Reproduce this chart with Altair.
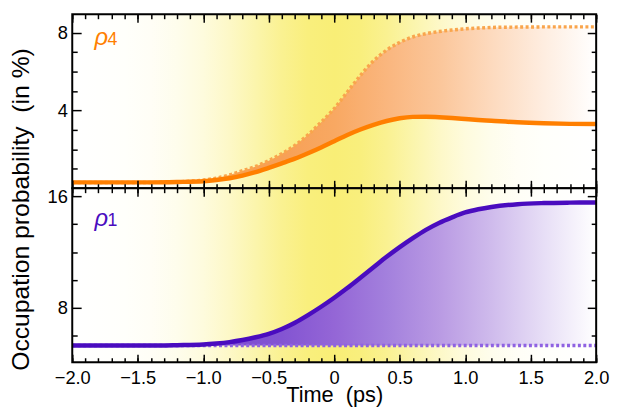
import altair as alt
import pandas as pd

# ---------------- data ----------------
time = [-2.0, -1.8, -1.6, -1.4, -1.2, -1.0, -0.9, -0.8, -0.7, -0.6, -0.5, -0.4,
        -0.3, -0.2, -0.1, 0.0, 0.1, 0.2, 0.3, 0.4, 0.5, 0.6, 0.7, 0.8, 0.9, 1.0,
        1.1, 1.2, 1.4, 1.6, 1.8, 2.0]
rho4_solid = [0.30, 0.30, 0.30, 0.30, 0.32, 0.36, 0.42, 0.51, 0.65, 0.83, 1.05, 1.28,
              1.52, 1.80, 2.10, 2.42, 2.74, 3.02, 3.26, 3.46, 3.60, 3.67, 3.68, 3.65,
              3.61, 3.56, 3.51, 3.47, 3.39, 3.34, 3.31, 3.30]
rho4_dotted = [0.30, 0.30, 0.30, 0.30, 0.33, 0.42, 0.52, 0.68, 0.90, 1.12, 1.42, 1.78,
               2.20, 2.75, 3.40, 4.10, 4.95, 5.80, 6.55, 7.10, 7.50, 7.78, 7.95, 8.06,
               8.14, 8.20, 8.24, 8.27, 8.29, 8.30, 8.30, 8.30]
rho1_solid = [5.25, 5.25, 5.25, 5.25, 5.28, 5.33, 5.40, 5.50, 5.65, 5.85, 6.10, 6.45,
              6.90, 7.45, 8.05, 8.70, 9.40, 10.15, 10.90, 11.65, 12.35, 13.00, 13.60,
              14.10, 14.50, 14.85, 15.08, 15.25, 15.45, 15.53, 15.56, 15.57]
rho1_dotted = [5.25] * len(time)

x_major = [-2.0, -1.5, -1.0, -0.5, 0.0, 0.5, 1.0, 1.5, 2.0]
x_minor = [round(-2 + 0.1 * i, 1) for i in range(41)]
top_y_major = [4, 8]
top_y_minor = [1, 2, 3, 5, 6, 7]
bot_y_major = [8, 16]
bot_y_minor = [6, 10, 12, 14]

top_domain = [0, 8.95]
bot_domain = [4.05, 16.6]
x_domain = [-2, 2]

FONT = "Liberation Sans"
W, H = 530, 176


def stops(pairs):
    return [alt.GradientStop(color=c, offset=o) for o, c in pairs]


yellow = alt.Gradient(
    gradient="linear", x1=0, x2=1, y1=0, y2=0,
    stops=stops([
        (0.0, "#FFFFFF"), (0.1, "#FFFFFB"), (0.15, "#FFFEF6"), (0.2, "#FEFDEC"),
        (0.25, "#FEFBDD"), (0.3, "#FDF8C7"), (0.35, "#FBF5AC"), (0.4, "#FAF191"),
        (0.45, "#F9EF7D"), (0.5, "#F9EE76"), (0.55, "#F9EF7D"), (0.6, "#FAF191"),
        (0.65, "#FBF5AC"), (0.7, "#FDF8C7"), (0.75, "#FEFBDD"), (0.8, "#FEFDEC"),
        (0.85, "#FFFEF6"), (0.9, "#FFFFFB"), (1.0, "#FFFFFF"),
    ]),
)

orange_fill = alt.Gradient(
    gradient="linear", x1=0, x2=1, y1=0, y2=0,
    stops=stops([
        (0.0, "#F5964A"), (0.4, "#F7A056"), (0.5, "#F8A862"), (0.6, "#FAB67E"),
        (0.7, "#FBC69A"), (0.8, "#FDDABE"), (0.9, "#FEEDE0"), (1.0, "#FFFFFF"),
    ]),
)

purple_fill = alt.Gradient(
    gradient="linear", x1=0, x2=1, y1=0, y2=0,
    stops=stops([
        (0.0, "#6E3CC8"), (0.4, "#8354D2"), (0.5, "#9466D6"), (0.6, "#A380DD"),
        (0.7, "#B99AE3"), (0.8, "#CFBBEC"), (0.9, "#E7DEF6"), (1.0, "#FFFFFF"),
    ]),
)


def xaxis(orient, values, size, labels=False, title=None):
    kw = dict(orient=orient, values=values, tickSize=size, offset=-size,
              domain=False, grid=False, ticks=True, tickColor="black",
              tickWidth=1.5, labels=labels, title=title, zindex=2)
    if labels:
        kw.update(labelFont=FONT, labelFontSize=18.5, labelColor="black",
                  labelPadding=6.5, labelFlush=False,
                  labelExpr="datum.value == 0 ? '0' : format(datum.value, '.1f')")
    if title:
        kw.update(titleFont=FONT, titleFontSize=22, titleFontWeight="normal",
                  titleColor="black", titlePadding=-2.5)
    return alt.Axis(**kw)


def yaxis(orient, values, size, labels=False, title=None):
    kw = dict(orient=orient, values=values, tickSize=size, offset=-size,
              domain=False, grid=False, ticks=True, tickColor="black",
              tickWidth=1.5, labels=labels, title=title, zindex=2)
    if labels:
        kw.update(labelFont=FONT, labelFontSize=18.5, labelColor="black",
                  labelPadding=5, labelFlush=False, format="d")
    if title:
        kw.update(titleFont=FONT, titleFontSize=25,
                  titleFontWeight="normal", titleColor="black",
                  titleAngle=270, titleAlign="center", titleBaseline="middle",
                  titleX=-61, titleY=197)
    return alt.Axis(**kw)


def panel(solid, dotted, ydom, ymaj, ymin, line_col, dot_col, fill, label_txt,
          sub_txt, label_pos, bottom_labels, ytitle):
    df = pd.DataFrame({"t": time, "solid": solid, "dotted": dotted})
    box = pd.DataFrame({"x0": [x_domain[0]], "x1": [x_domain[1]],
                        "y0": [ydom[0]], "y1": [ydom[1]]})
    xs = alt.Scale(domain=x_domain, nice=False, zero=False)
    ys = alt.Scale(domain=ydom, nice=False, zero=False)

    bg = alt.Chart(box).mark_rect(color=yellow).encode(
        x=alt.X("x0:Q", scale=xs,
                axis=xaxis("bottom", x_major, 8, labels=bottom_labels,
                           title="Time\u00a0 (ps)" if bottom_labels else None)),
        x2="x1:Q",
        y=alt.Y("y0:Q", scale=ys, axis=yaxis("left", ymaj, 9, labels=True,
                                             title=ytitle)),
        y2="y1:Q",
    )
    area = alt.Chart(df).mark_area(color=fill, opacity=1,
                                   interpolate="monotone").encode(
        x=alt.X("t:Q", scale=xs, axis=xaxis("bottom", x_minor, 4.5)),
        y=alt.Y("dotted:Q", scale=ys, axis=yaxis("left", ymin, 5)),
        y2="solid:Q",
    )
    dot = alt.Chart(df).mark_line(color=dot_col, strokeWidth=3.5,
                                  strokeDash=[3, 2.5],
                                  interpolate="monotone").encode(
        x=alt.X("t:Q", scale=xs, axis=xaxis("top", x_major, 8)),
        y=alt.Y("dotted:Q", scale=ys, axis=yaxis("right", ymaj, 9)),
    )
    sol = alt.Chart(df).mark_line(color=line_col, strokeWidth=4.5,
                                  interpolate="monotone").encode(
        x=alt.X("t:Q", scale=xs, axis=xaxis("top", x_minor, 4.5)),
        y=alt.Y("solid:Q", scale=ys, axis=yaxis("right", ymin, 5)),
    )
    lab = pd.DataFrame({"x": [label_pos[0]], "y": [label_pos[1]],
                        "xs": [label_pos[2]], "txt": [label_txt], "sub": [sub_txt]})
    rho = alt.Chart(lab).mark_text(font=FONT, fontSize=24, fontStyle="italic",
                                   color=line_col, align="left",
                                   baseline="alphabetic").encode(
        x=alt.X("x:Q", scale=xs, axis=None),
        y=alt.Y("y:Q", scale=ys, axis=None),
        text="txt:N",
    )
    sub = alt.Chart(lab).mark_text(font=FONT, fontSize=18, color=line_col,
                                   align="left", baseline="alphabetic").encode(
        x=alt.X("xs:Q", scale=xs, axis=None),
        y=alt.Y("y:Q", scale=ys, axis=None),
        text="sub:N",
    )
    frame = alt.Chart(box).mark_rect(filled=False, stroke="black",
                                     strokeWidth=2).encode(
        x=alt.X("x0:Q", scale=xs, axis=None),
        x2="x1:Q",
        y=alt.Y("y0:Q", scale=ys, axis=None),
        y2="y1:Q",
    )
    return alt.layer(bg, area, dot, sol, rho, sub, frame).resolve_axis(
        x="independent", y="independent").properties(width=W, height=H)


top = panel(rho4_solid, rho4_dotted, top_domain, top_y_major, top_y_minor,
            "#FF7F00", "#F9A54C", orange_fill, "ρ", "4", (-1.83, 7.35, -1.73),
            False, "Occupation probability\u00a0 (in %)")
bottom = panel(rho1_solid, rho1_dotted, bot_domain, bot_y_major, bot_y_minor,
               "#4A0CBF", "#8F62E2", purple_fill, "ρ", "1", (-1.83, 13.9, -1.73),
               True, None)

chart = alt.vconcat(top, bottom, spacing=0, bounds="flush").properties(
    padding={"left": 0, "top": 2, "right": 0, "bottom": 0}
).configure_view(stroke=None).configure(background="white")

chart.save("out.html", embed_options={"renderer": "svg", "actions": False})
